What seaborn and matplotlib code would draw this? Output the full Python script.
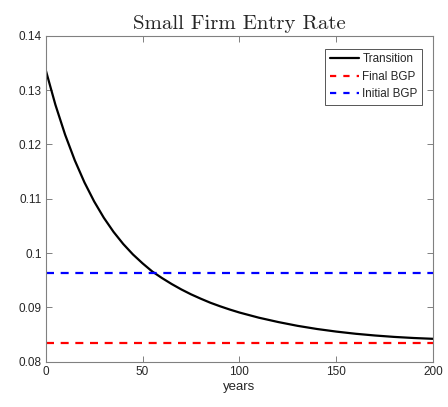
import matplotlib
matplotlib.use("Agg")
import matplotlib.pyplot as plt
import seaborn as sns
import pandas as pd

years = [0, 5, 10, 15, 20, 25, 30, 35, 40, 45, 50, 55, 60, 65, 70, 75, 80, 85, 90,
         95, 100, 110, 120, 130, 140, 150, 160, 170, 180, 190, 200]
transition = [0.13370, 0.12730, 0.12180, 0.11707, 0.11300, 0.10950, 0.10649, 0.10390,
              0.10167, 0.09975, 0.09810, 0.09660, 0.09540, 0.09430, 0.09330, 0.09240,
              0.09160, 0.09085, 0.09020, 0.08960, 0.08905, 0.08810, 0.08730, 0.08660,
              0.08602, 0.08554, 0.08514, 0.08482, 0.08456, 0.08436, 0.08421]
final_bgp = 0.0834
initial_bgp = 0.0964
x_range = [0, 200]

sns.set_style("white")
plt.rcParams['font.family'] = ['Liberation Sans', 'DejaVu Sans']

fig = plt.figure(figsize=(4.48, 4.07), dpi=100)
ax = fig.add_axes([0.102, 0.1113, 0.865, 0.801])

df_t = pd.DataFrame({"years": years, "value": transition})
sns.lineplot(data=df_t, x="years", y="value", ax=ax, color="black", lw=1.6,
             label="Transition")
dash = (0, (3.6, 3.0))
sns.lineplot(x=x_range, y=[final_bgp] * 2, ax=ax, color="red", lw=1.6,
             linestyle=dash, label="Final BGP")
sns.lineplot(x=x_range, y=[initial_bgp] * 2, ax=ax, color="blue", lw=1.6,
             linestyle=dash, label="Initial BGP")

ax.set_xlim(0, 200)
ax.set_ylim(0.08, 0.14)
ax.set_xticks([0, 50, 100, 150, 200])
ax.set_xticklabels(["0", "50", "100", "150", "200"])
ax.set_yticks([0.08, 0.09, 0.10, 0.11, 0.12, 0.13, 0.14])
ax.set_yticklabels(["0.08", "0.09", "0.1", "0.11", "0.12", "0.13", "0.14"])
ax.tick_params(direction="in", length=4, width=0.7, color="#808080",
               labelsize=8.5, labelcolor="#262626", top=True, right=True,
               bottom=True, left=True, pad=3)
for s in ax.spines.values():
    s.set_color("#808080")
    s.set_linewidth(0.8)
ax.set_xlabel("years", fontsize=9.5, color="#262626", labelpad=2)
ax.set_ylabel("")
ax.set_title("Small Firm Entry Rate", fontfamily="cmr10", fontsize=15, pad=5)

leg = ax.legend(loc="upper right", bbox_to_anchor=(0.972, 0.96), fontsize=8.4,
                frameon=True, fancybox=False, framealpha=1, edgecolor="#555555",
                handlelength=2.5, handletextpad=0.3, borderpad=0.4,
                labelspacing=0.45, borderaxespad=0)
leg.get_frame().set_linewidth(0.7)
for h in leg.get_lines()[1:]:
    h.set_linestyle((0, (2.8, 3.2)))

fig.savefig("out.png", dpi=100)
